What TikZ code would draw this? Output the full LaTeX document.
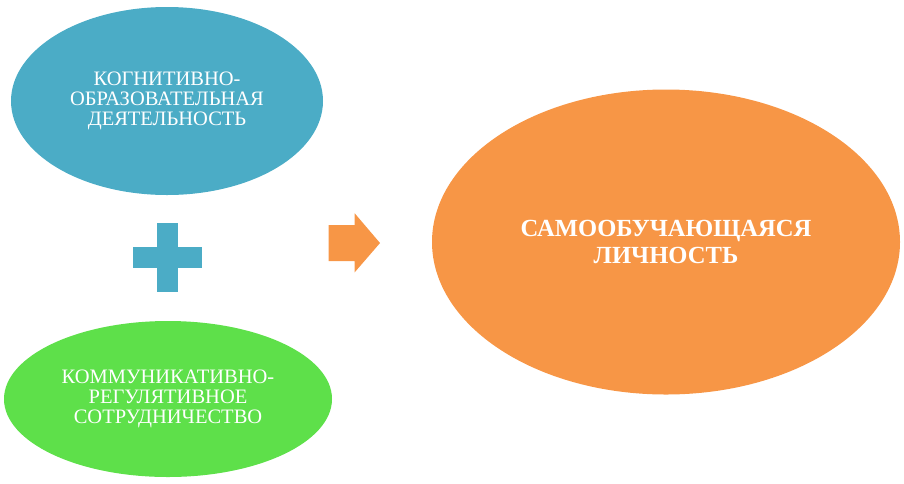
\documentclass[tikz,border=0pt]{standalone}
\usepackage{fontspec}
\setmainfont{Liberation Serif}
\usetikzlibrary{shapes.geometric}
\definecolor{tealblob}{HTML}{4BACC6}
\definecolor{greenblob}{HTML}{5EE04A}
\definecolor{orangeblob}{HTML}{F79646}

\begin{document}
\begin{tikzpicture}[x=1pt, y=-1pt,
    blob/.style={ellipse, inner sep=0pt, align=center, text=white},
    plain/.style={font=\fontsize{20.5}{20}\selectfont},
    strong/.style={font=\fontsize{24.6}{27}\selectfont\bfseries}]
    \useasboundingbox (0,0) rectangle (904,483);
    \node(cog)[blob, plain, fill=tealblob, minimum width=312pt, minimum height=188pt]
      at (167,101) {КОГНИТИВНО-\\ОБРАЗОВАТЕЛЬНАЯ\\ДЕЯТЕЛЬНОСТЬ};
    \node(com)[blob, plain, fill=greenblob, minimum width=328pt, minimum height=156pt]
      at (168,399) {КОММУНИКАТИВНО-\\РЕГУЛЯТИВНОЕ\\СОТРУДНИЧЕСТВО};
    \node(self)[blob, strong, fill=orangeblob, minimum width=468pt, minimum height=305pt]
      at (666,242) {САМООБУЧАЮЩАЯСЯ\\ЛИЧНОСТЬ};
    % plus sign
    \coordinate(plus) at (167.5,257.5);
    \fill[tealblob] ([shift={(-10.8,-34.2)}]plus) rectangle ([shift={(10.8,34.2)}]plus);
    \fill[tealblob] ([shift={(-34.2,-10.8)}]plus) rectangle ([shift={(34.2,10.8)}]plus);
    % arrow
    \coordinate(go) at (328.7,243);
    \fill[orangeblob] ([shift={(0,-18)}]go) -- ++(26,0) -- ++(0,-11.7) -- ([shift={(51.3,0)}]go)
      -- ([shift={(26,29.3)}]go) -- ++(0,-11.3) -- ([shift={(0,18)}]go) -- cycle;
\end{tikzpicture}
\end{document}
